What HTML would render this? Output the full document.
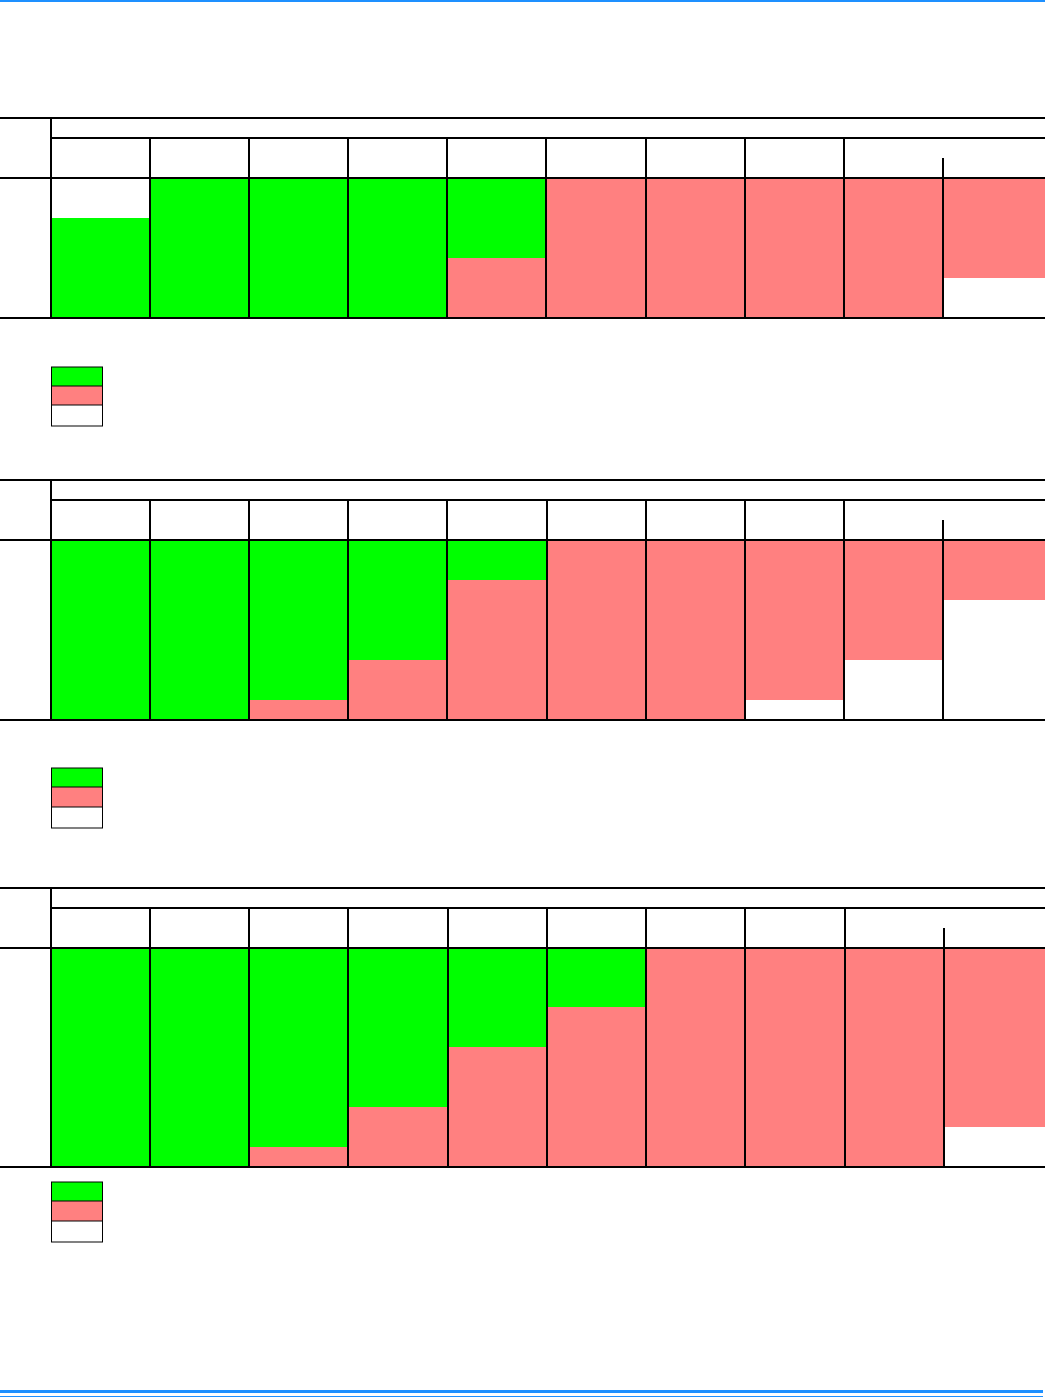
<!DOCTYPE html><html><head><style>body{margin:0;background:#fff}svg{display:block}</style></head><body>
<svg width="1045" height="1398" xmlns="http://www.w3.org/2000/svg">
<rect x="0" y="0" width="1045" height="2" fill="#1e90ff"/>
<rect x="0" y="1390" width="1043" height="3" fill="#1e90ff"/>
<rect x="0" y="1396" width="1043" height="1" fill="#1e90ff"/>
<g id="t1">
<rect x="51" y="218" width="99" height="100" fill="#0f0"/>
<rect x="150" y="178" width="297" height="140" fill="#0f0"/>
<rect x="447" y="178" width="99" height="80" fill="#0f0"/>
<rect x="447" y="258" width="496" height="60" fill="#ff8080"/>
<rect x="546" y="178" width="397" height="80" fill="#ff8080"/>
<rect x="943" y="178" width="102" height="100" fill="#ff8080"/>
<g stroke="#000" stroke-width="2">
<line x1="0" y1="118" x2="1045" y2="118"/><line x1="51" y1="138" x2="1045" y2="138"/>
<line x1="0" y1="178" x2="1045" y2="178"/><line x1="0" y1="318" x2="1045" y2="318"/>
<line x1="51" y1="118" x2="51" y2="318"/>
<line x1="150" y1="138" x2="150" y2="318"/><line x1="249" y1="138" x2="249" y2="318"/><line x1="348" y1="138" x2="348" y2="318"/><line x1="447" y1="138" x2="447" y2="318"/><line x1="546" y1="138" x2="546" y2="318"/><line x1="646" y1="138" x2="646" y2="318"/><line x1="745" y1="138" x2="745" y2="318"/><line x1="844" y1="138" x2="844" y2="318"/><line x1="943" y1="158" x2="943" y2="318"/>
</g>
<rect x="51.5" y="367" width="51" height="19" fill="#0f0" stroke="#000"/><rect x="51.5" y="386" width="51" height="19" fill="#ff8080" stroke="#000"/><rect x="51.5" y="405" width="51" height="21" fill="#fff" stroke="#000"/>
</g>
<rect x="51" y="540" width="198" height="180" fill="#0f0"/>
<rect x="249" y="540" width="99" height="160" fill="#0f0"/><rect x="249" y="700" width="99" height="20" fill="#ff8080"/>
<rect x="348" y="540" width="99" height="120" fill="#0f0"/><rect x="348" y="660" width="99" height="60" fill="#ff8080"/>
<rect x="447" y="540" width="100" height="40" fill="#0f0"/><rect x="447" y="580" width="100" height="140" fill="#ff8080"/>
<rect x="547" y="540" width="198" height="180" fill="#ff8080"/>
<rect x="745" y="540" width="99" height="160" fill="#ff8080"/>
<rect x="844" y="540" width="99" height="120" fill="#ff8080"/>
<rect x="943" y="540" width="102" height="60" fill="#ff8080"/>
<g stroke="#000" stroke-width="2">
<line x1="0" y1="480" x2="1045" y2="480"/><line x1="51" y1="500" x2="1045" y2="500"/>
<line x1="0" y1="540" x2="1045" y2="540"/><line x1="0" y1="720" x2="1045" y2="720"/>
<line x1="51" y1="480" x2="51" y2="720"/>
<line x1="150" y1="500" x2="150" y2="720"/><line x1="249" y1="500" x2="249" y2="720"/><line x1="348" y1="500" x2="348" y2="720"/><line x1="447" y1="500" x2="447" y2="720"/><line x1="547" y1="500" x2="547" y2="720"/><line x1="646" y1="500" x2="646" y2="720"/><line x1="745" y1="500" x2="745" y2="720"/><line x1="844" y1="500" x2="844" y2="720"/><line x1="943" y1="520" x2="943" y2="720"/>
</g>
<rect x="51.5" y="768" width="51" height="19" fill="#0f0" stroke="#000"/><rect x="51.5" y="787" width="51" height="20" fill="#ff8080" stroke="#000"/><rect x="51.5" y="807" width="51" height="21" fill="#fff" stroke="#000"/>
<rect x="51" y="948" width="198" height="219" fill="#0f0"/>
<rect x="249" y="948" width="99" height="199" fill="#0f0"/><rect x="249" y="1147" width="99" height="20" fill="#ff8080"/>
<rect x="348" y="948" width="100" height="159" fill="#0f0"/><rect x="348" y="1107" width="100" height="60" fill="#ff8080"/>
<rect x="448" y="948" width="99" height="99" fill="#0f0"/><rect x="448" y="1047" width="99" height="120" fill="#ff8080"/>
<rect x="547" y="948" width="99" height="59" fill="#0f0"/><rect x="547" y="1007" width="99" height="160" fill="#ff8080"/>
<rect x="646" y="948" width="298" height="219" fill="#ff8080"/>
<rect x="944" y="948" width="101" height="179" fill="#ff8080"/>
<g stroke="#000" stroke-width="2">
<line x1="0" y1="888" x2="1045" y2="888"/><line x1="51" y1="908" x2="1045" y2="908"/>
<line x1="0" y1="948" x2="1045" y2="948"/><line x1="0" y1="1167" x2="1045" y2="1167"/>
<line x1="51" y1="888" x2="51" y2="1167"/>
<line x1="150" y1="908" x2="150" y2="1167"/><line x1="249" y1="908" x2="249" y2="1167"/><line x1="348" y1="908" x2="348" y2="1167"/><line x1="448" y1="908" x2="448" y2="1167"/><line x1="547" y1="908" x2="547" y2="1167"/><line x1="646" y1="908" x2="646" y2="1167"/><line x1="745" y1="908" x2="745" y2="1167"/><line x1="845" y1="908" x2="845" y2="1167"/><line x1="944" y1="928" x2="944" y2="1167"/>
</g>
<rect x="51.5" y="1182" width="51" height="19" fill="#0f0" stroke="#000"/><rect x="51.5" y="1201" width="51" height="20" fill="#ff8080" stroke="#000"/><rect x="51.5" y="1221" width="51" height="21" fill="#fff" stroke="#000"/>
</svg>
</body></html>
